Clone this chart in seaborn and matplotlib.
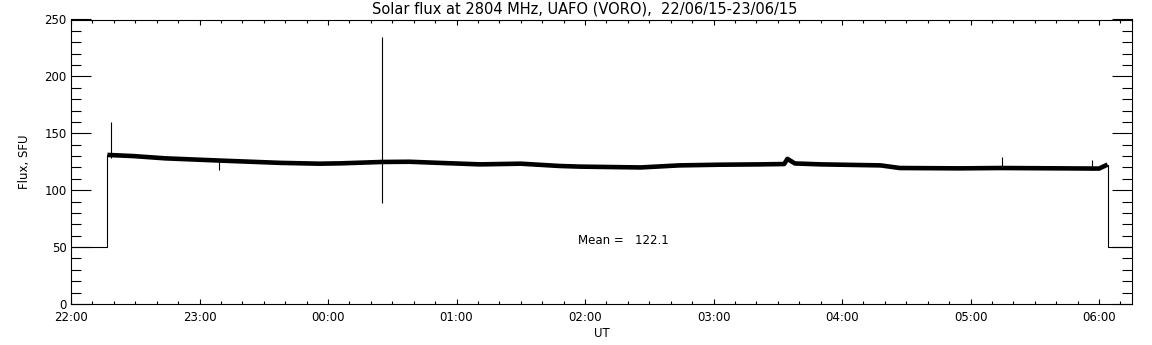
import numpy as np
import pandas as pd
import seaborn as sns
import matplotlib.pyplot as plt
from matplotlib.ticker import MultipleLocator, FixedLocator, FixedFormatter

# time in minutes after 22:00 UT, flux in SFU
base_t = [0, 17, 17]
base_v = [50, 50, 131]
band_t = [17, 29, 44, 70, 98, 116, 126, 145, 158, 172, 191, 210, 228, 238,
          266, 284, 303, 322, 333, 334.5, 338, 350, 378, 387, 415, 434, 462,
          480, 484]
band_v = [131, 130, 128, 126, 124, 123.3, 123.6, 124.8, 125, 124, 122.7,
          123.3, 121.3, 120.7, 120, 121.8, 122.4, 122.7, 123, 127.5, 123.5,
          122.7, 121.8, 119.5, 119.2, 119.5, 119.2, 119, 122.5]
tail_t = [484, 484, 495.4]
tail_v = [122.5, 50, 50]
spike_t = [18.5, 69, 145.4, 434.7, 476.7]
spike_lo = [128, 118, 89, 119, 118]
spike_hi = [160, 126, 235, 129.5, 126.5]
hour_labels = ["22:00", "23:00", "00:00", "01:00", "02:00", "03:00",
               "04:00", "05:00", "06:00"]
title = "Solar flux at 2804 MHz, UAFO (VORO),  22/06/15-23/06/15"
mean_text = "Mean =   122.1"

sns.set_style("ticks")
plt.rcParams['font.family'] = ['DejaVu Sans']
plt.rcParams.update({'text.color': 'k', 'axes.labelcolor': 'k',
                     'xtick.color': 'k', 'ytick.color': 'k',
                     'axes.edgecolor': 'k'})

fig = plt.figure(figsize=(11.52, 3.45), dpi=100)
ax = fig.add_axes([71/1152, 41/345, (1132-71)/1152, (304-19.5)/345])

lw = 0.8
sns.lineplot(x=base_t, y=base_v, sort=False, estimator=None, color='k',
             lw=lw, ax=ax)
sns.lineplot(x=tail_t, y=tail_v, sort=False, estimator=None, color='k',
             lw=lw, ax=ax)
sns.lineplot(x=band_t, y=band_v, sort=False, estimator=None, color='k',
             lw=3.3, solid_capstyle='butt', ax=ax)
ax.vlines(spike_t, spike_lo, spike_hi, color='k', lw=lw)

ax.set_xlim(0, 495.4)
ax.set_ylim(0, 250)
ax.xaxis.set_major_locator(FixedLocator(np.arange(len(hour_labels)) * 60))
ax.xaxis.set_major_formatter(FixedFormatter(hour_labels))
ax.xaxis.set_minor_locator(MultipleLocator(10))
ax.yaxis.set_major_locator(MultipleLocator(50))
ax.yaxis.set_minor_locator(MultipleLocator(10))

ax.tick_params(axis='x', which='major', direction='in', length=3.6, width=0.8,
               top=True, bottom=True, labelsize=8.5, pad=5)
ax.tick_params(axis='x', which='minor', direction='in', length=2, width=0.8,
               top=True, bottom=True)
ax.tick_params(axis='y', which='major', direction='in', length=14.4, width=0.8,
               left=True, right=True, labelsize=8.5, pad=3)
ax.tick_params(axis='y', which='minor', direction='in', length=7.2, width=0.8,
               left=True, right=True)
for s in ax.spines.values():
    s.set_visible(True)
    s.set_linewidth(0.8)

ax.set_xlabel("UT", fontsize=8.5, labelpad=2)
ax.set_ylabel("Flux, SFU", fontsize=8.5, labelpad=10)
ax.text(236.5, 56, mean_text, fontsize=8.5, ha='left', va='center')
fig.text(585/1152, 1 - 9/345, title, fontsize=10.5, ha='center', va='center')

fig.savefig("out.png", dpi=100)
